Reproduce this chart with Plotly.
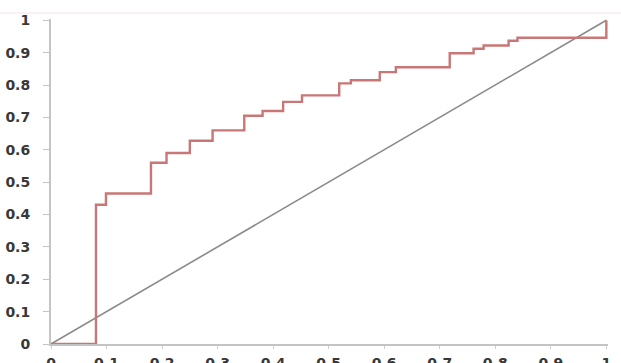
import plotly.graph_objects as go

# ROC curve step points (false positive rate, true positive rate)
fpr = [0.0, 0.081, 0.081, 0.099, 0.099, 0.180, 0.180, 0.208, 0.208, 0.250, 0.250,
       0.291, 0.291, 0.348, 0.348, 0.381, 0.381, 0.418, 0.418, 0.452, 0.452,
       0.519, 0.519, 0.540, 0.540, 0.592, 0.592, 0.621, 0.621, 0.718, 0.718,
       0.761, 0.761, 0.779, 0.779, 0.824, 0.824, 0.840, 0.840, 1.0, 1.0]
tpr = [0.0, 0.0, 0.430, 0.430, 0.465, 0.465, 0.560, 0.560, 0.590, 0.590, 0.628,
       0.628, 0.660, 0.660, 0.705, 0.705, 0.720, 0.720, 0.748, 0.748, 0.768,
       0.768, 0.805, 0.805, 0.815, 0.815, 0.840, 0.840, 0.855, 0.855, 0.898,
       0.898, 0.912, 0.912, 0.922, 0.922, 0.937, 0.937, 0.946, 0.946, 1.0]
diag_x = [0, 1]
diag_y = [0, 1]
tick_vals = [0, 0.1, 0.2, 0.3, 0.4, 0.5, 0.6, 0.7, 0.8, 0.9, 1]
tick_text = ["0", "0.1", "0.2", "0.3", "0.4", "0.5", "0.6", "0.7", "0.8", "0.9", "1"]

fig = go.Figure()
fig.add_trace(go.Scatter(x=diag_x, y=diag_y, mode="lines",
                         line=dict(color="#8a8a8a", width=1.6), showlegend=False))
fig.add_trace(go.Scatter(x=fpr, y=tpr, mode="lines",
                         line=dict(color="#c97676", width=2.4), showlegend=False))

axis_font = dict(family="DejaVu Sans", size=14, color="#383838", weight="bold")
fig.update_layout(
    width=621, height=363,
    margin=dict(l=51, r=13, t=19, b=19),
    plot_bgcolor="white", paper_bgcolor="white",
    xaxis=dict(range=[0, 1.003], tickvals=tick_vals, ticktext=tick_text,
               showgrid=False, zeroline=False, showline=True,
               linecolor="#c4c4c4", linewidth=2, ticks="outside",
               ticklen=3, tickcolor="#cfcfcf", tickwidth=1,
               ticklabelstandoff=2,
               tickfont=axis_font, automargin=False),
    yaxis=dict(range=[0, 1.004], tickvals=tick_vals, ticktext=tick_text,
               showgrid=False, zeroline=False, showline=True,
               linecolor="#c4c4c4", linewidth=2, ticks="outside",
               ticklen=6, tickcolor="#c4c4c4", tickwidth=1,
               ticklabelstandoff=10,
               tickfont=axis_font, automargin=False),
    shapes=[dict(type="line", xref="paper", yref="paper",
                 x0=-51/557, x1=1+13/557, y0=1+6/325, y1=1+6/325,
                 line=dict(color="#f2e2e5", width=1))],
)

fig.write_html("out.html", config={"displayModeBar": False},
               post_script="document.body.style.margin='0';document.body.style.overflow='hidden';")
